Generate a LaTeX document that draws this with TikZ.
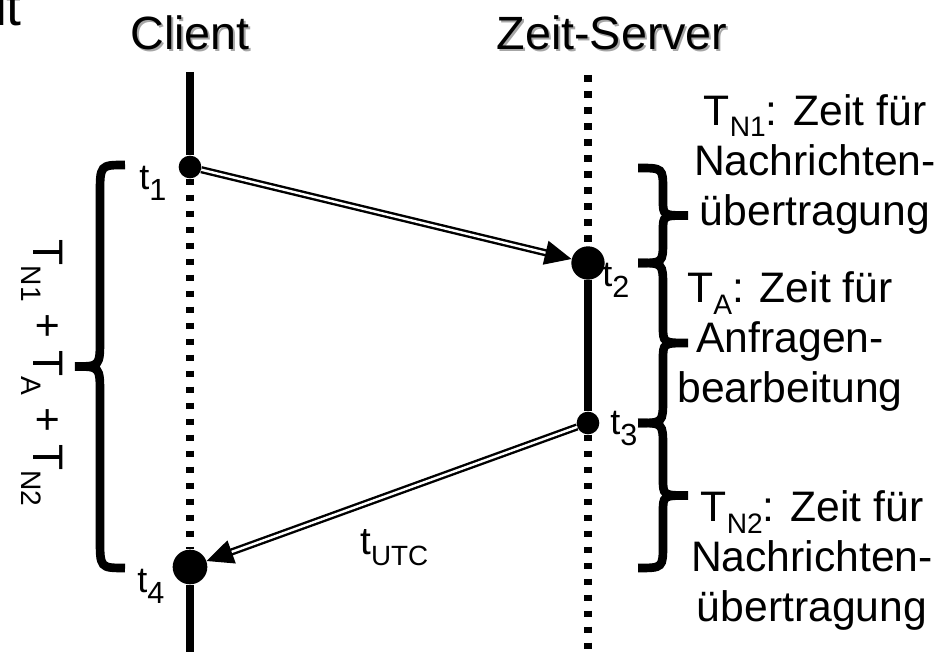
\documentclass[tikz,border=0pt]{standalone}
\usepackage{fontspec}
\setmainfont{Liberation Sans}
\usetikzlibrary{arrows.meta, positioning}

% lowered, smaller index text (T_N1, t_1, ...)
\newcommand{\lowidx}[2][0.66]{\raisebox{-0.28em}{\scalebox{#1}{#2}}}
% curly brace: end x, tip x, top y, bottom y, end curve, tip curve
\newcommand{\curly}[6]{%
  \pgfmathsetmacro{\bsx}{(#1+#2)/2}%
  \pgfmathsetmacro{\bmy}{(#3+#4)/2}%
  \draw[brace] (#1,#3) .. controls (\bsx,#3) .. (\bsx,#3-#5) -- (\bsx,\bmy+#6)
    .. controls (\bsx,\bmy) .. (#2,\bmy) .. controls (\bsx,\bmy) .. (\bsx,\bmy-#6)
    -- (\bsx,#4+#5) .. controls (\bsx,#4) .. (#1,#4);}

\begin{document}
\begin{tikzpicture}[x=75pt, y=75pt,
  life/.style={line width=6pt},
  wait/.style={line width=5.5pt, dash pattern=on 5pt off 7pt},
  event/.style={circle, fill, inner sep=0pt, minimum size=#1},
  msg/.style={double, line width=1.8pt, double distance=1.8pt,
    -{Triangle[length=20pt, width=18pt]}},
  brace/.style={line width=6.5pt},
  title/.style={font=\fontsize{35}{42}\selectfont, inner sep=0pt, anchor=base},
  tlab/.style={font=\fontsize{27}{30}\selectfont, inner sep=0pt, anchor=base west},
  note/.style={font=\fontsize{32}{37.5}\selectfont, align=center, inner sep=0pt}]

% parameters
\def\xc{1.90}   % client time line
\def\xs{5.88}   % server time line

\useasboundingbox (0,0) rectangle (9.47,6.59);
\clip (0,0) rectangle (9.47,6.59);

% titles (with shadow)
\node[title, font=\fontsize{40}{46}\selectfont, anchor=base east] (zeit) at (0.22,6.33) {Zeit};
\node[title, text=black!35] at (\xc+0.02,6.09-0.02) {Client};
\node[title] (client) at (\xc,6.09) {Client};
\node[title, text=black!35] at (6.14,6.07) {Zeit-Server};
\node[title] (server) at (6.12,6.09) {Zeit-Server};

% events
\node[event=17pt] (t1) at (\xc,4.92) {};
\node[event=25pt] (t2) at (\xs,3.96) {};
\node[event=17pt] (t3) at (\xs,2.36) {};
\node[event=26pt] (t4) at (\xc,0.92) {};

% time lines
\coordinate (ctop) at (\xc,5.87);
\coordinate (cbot) at (\xc,0.07);
\coordinate (stop) at (\xs,5.84);
\coordinate (sbot) at (\xs,0.04);
\draw[life] (ctop) -- (t1);
\draw[wait] (t1) -- (t4);
\draw[life] (t4) -- (cbot);
\draw[wait] (stop) -- (t2);
\draw[life] (t2) -- (t3);
\draw[wait] (t3) -- (sbot);

% messages
\draw[msg] (t1) -- (t2);
\draw[msg] (t3) -- (t4);

% event labels
\node[tlab] (l1) at (1.39,4.69) {t\lowidx[0.85]{1}};
\node[tlab] (l2) at (6.02,3.72) {t\lowidx[0.85]{2}};
\node[tlab] (l3) at (6.10,2.24) {t\lowidx[0.85]{3}};
\node[tlab] (l4) at (1.37,0.66) {t\lowidx[0.85]{4}};
\node[tlab, font=\fontsize{29}{34}\selectfont] (utc) at (3.60,1.04) {t\lowidx[0.72]{UTC}};

% braces
\curly{1.25}{0.75}{4.94}{0.91}{0.30}{0.28}
\curly{6.38}{6.88}{4.91}{3.96}{0.22}{0.15}
\curly{6.38}{6.88}{3.96}{2.36}{0.24}{0.17}
\curly{6.38}{6.88}{2.36}{0.91}{0.24}{0.17}

% durations
\node[font=\fontsize{32}{36}\selectfont, inner sep=0pt, rotate=-90, anchor=base]
  (sum) at (0.33,2.86) {T\lowidx{N1} + T\lowidx{A} + T\lowidx{N2}};
\node[note] (tn1) at (8.15,4.95) {T\lowidx{N1}: Zeit für\\Nachrichten-\\übertragung};
\node[note] (ta) at (7.90,3.175) {T\lowidx{A}: Zeit für\\Anfragen-\\bearbeitung};
\node[note] (tn2) at (8.12,0.985) {T\lowidx{N2}: Zeit für\\Nachrichten-\\übertragung};

\end{tikzpicture}
\end{document}
